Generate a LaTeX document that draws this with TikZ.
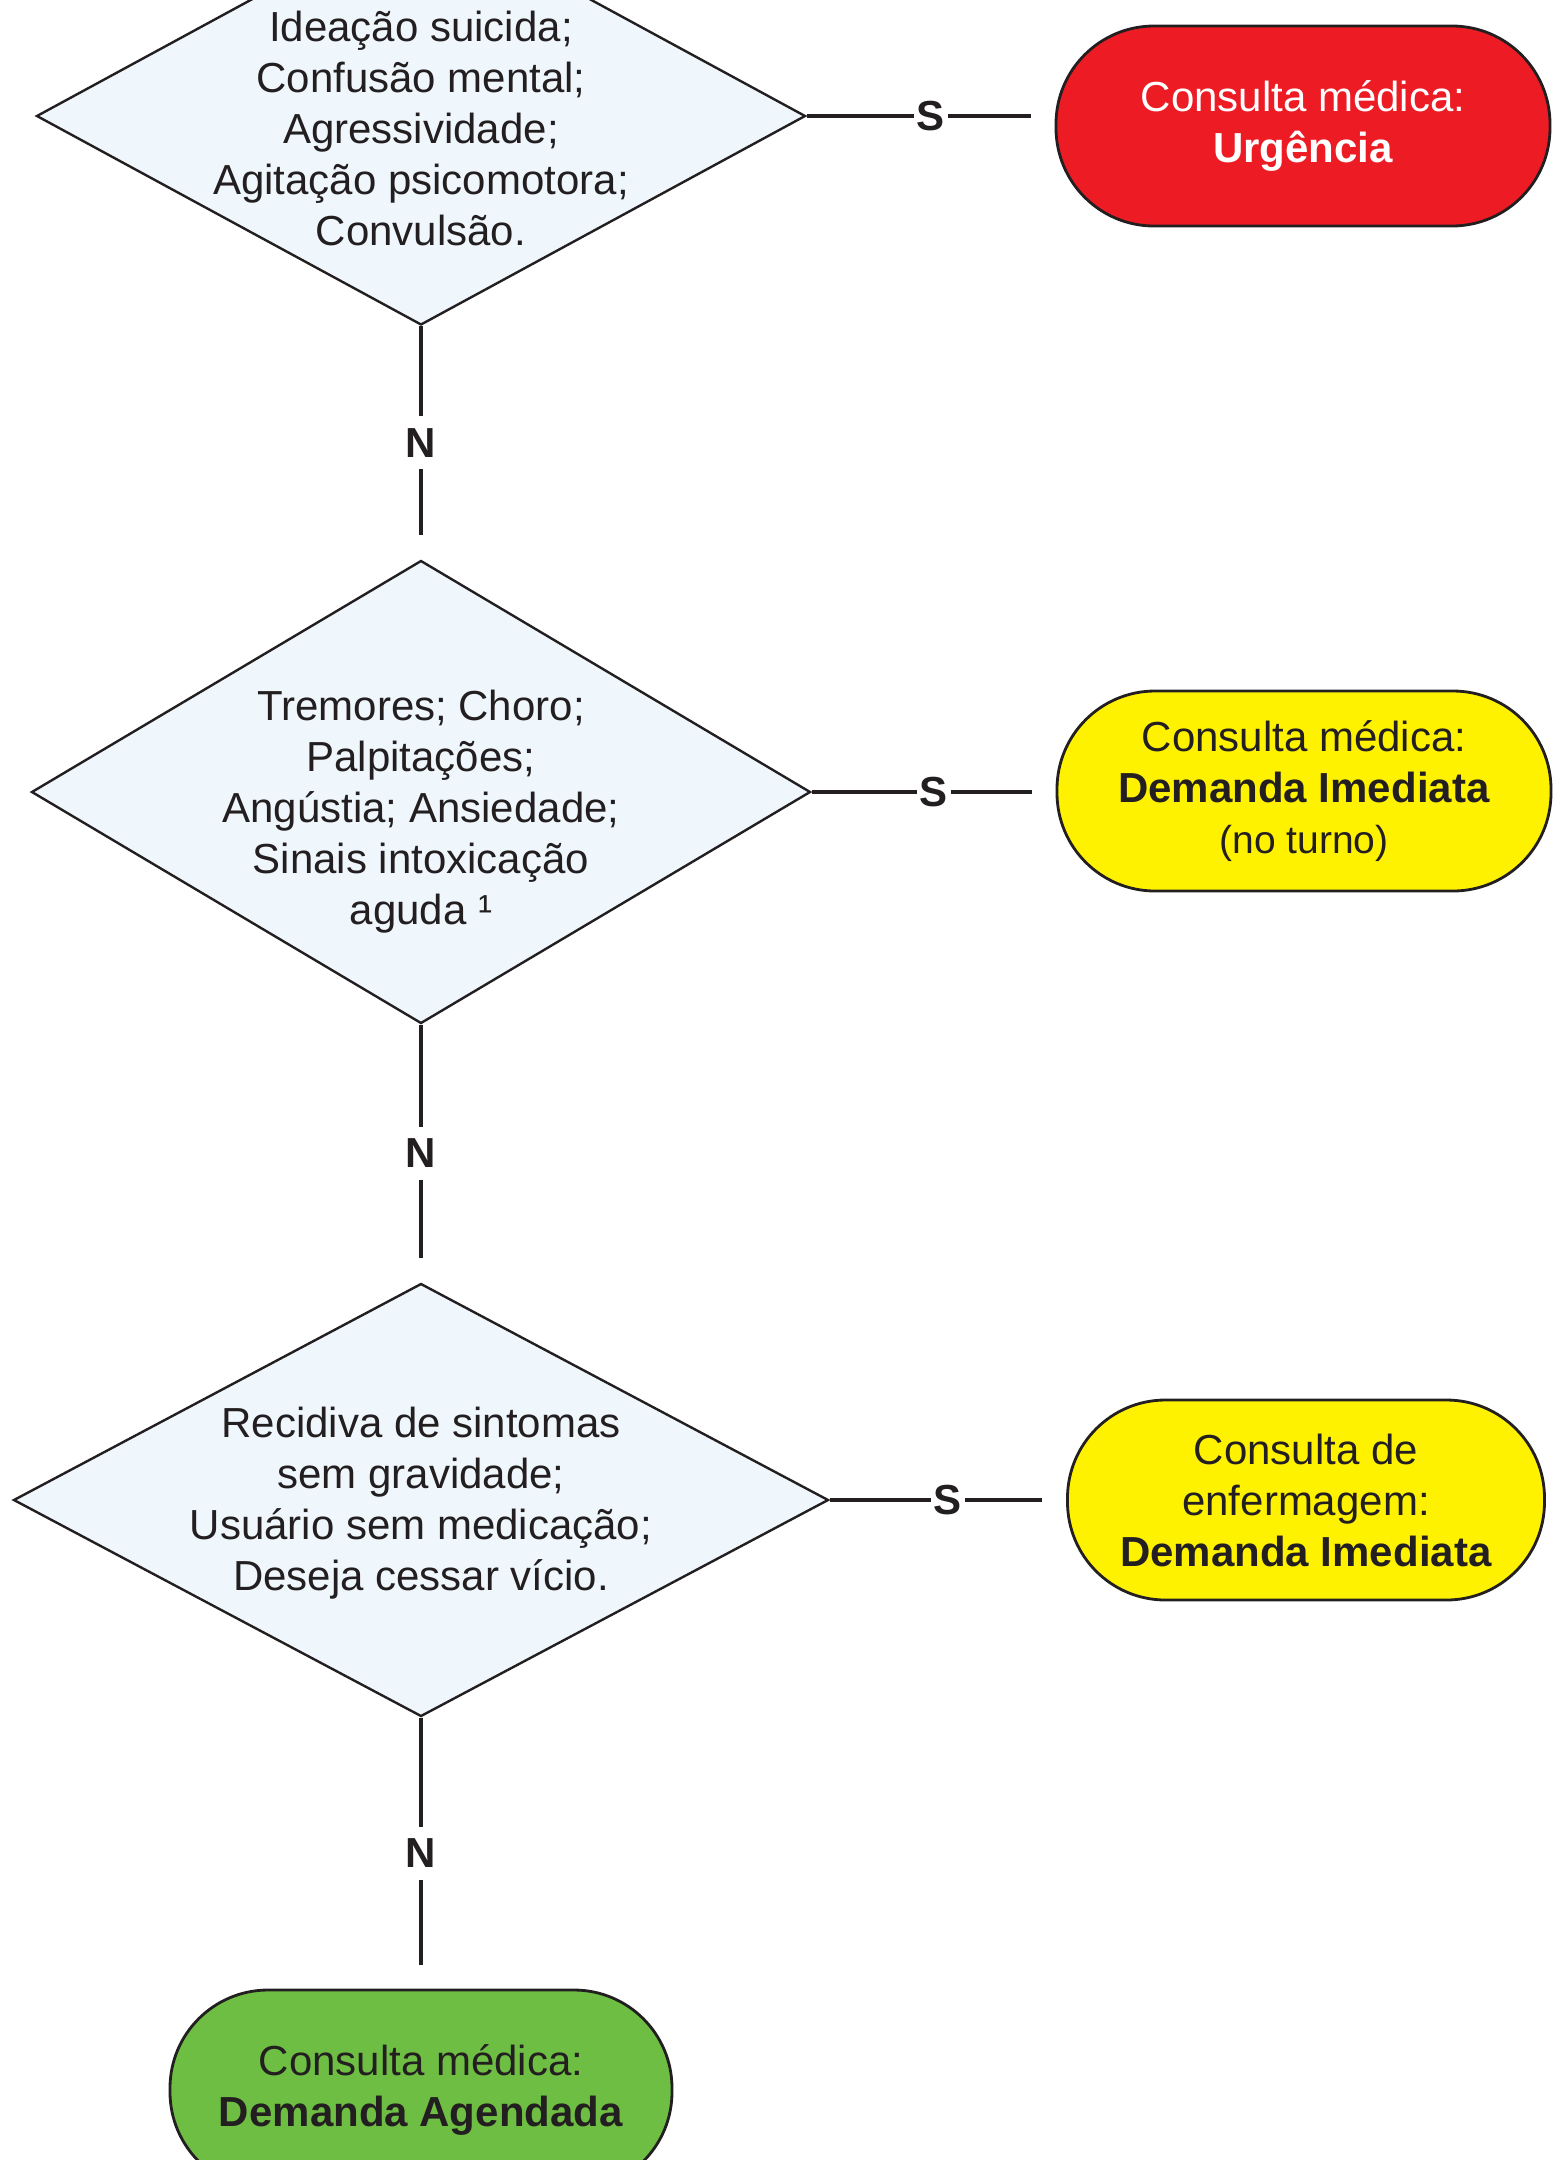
\documentclass[tikz,border=0pt]{standalone}
\usepackage{fontspec}
\setmainfont{Liberation Sans}
\usetikzlibrary{positioning, shapes.geometric, calc}
\definecolor{fxLine}{RGB}{35, 31, 32}
\definecolor{fxBlue}{RGB}{239, 247, 253}
\definecolor{fxRed}{RGB}{237, 28, 36}
\definecolor{fxYellow}{RGB}{255, 242, 0}
\definecolor{fxGreen}{RGB}{110, 190, 68}
\tikzset{
    base/.style={
        font=\fontsize{21}{25.5}\selectfont,
        align=center,
        text=fxLine
    },
    decision/.style={
        diamond,
        draw=fxLine,
        line width=1.2pt,
        fill=fxBlue,
        inner sep=0pt
    },
    question/.style={
        base,
        inner sep=0pt
    },
    outcome/.style={
        base,
        rectangle,
        rounded corners=49pt,
        draw=fxLine,
        line width=1.4pt,
        minimum width=247pt,
        minimum height=100pt,
        inner sep=0pt
    },
    link/.style={
        draw=fxLine,
        line width=1.6pt,
        shorten >=12pt
    },
    answer/.style={
        base,
        font=\fontsize{21}{25.5}\selectfont\bfseries,
        fill=white,
        inner xsep=1.5pt,
        inner ysep=6pt
    }
}

\begin{document}
\begin{tikzpicture}[x=0.5pt, y=-0.5pt]
  \useasboundingbox (0,0) rectangle (1556,2160);

  % Decisions
  \node[decision, minimum width=384.5pt, minimum height=209pt] (q1) at (421,116) {};
  \node[question] (q1txt) at (421,128) {Ideação suicida;\\ Confusão mental;\\ Agressividade;\\ Agitação psicomotora;\\ Convulsão.};

  \node[decision, minimum width=389.5pt, minimum height=231.5pt] (q2) at (421,792) {};
  \node[question] (q2txt) at (421,812) {Tremores; Choro;\\ Palpitações;\\ Angústia; Ansiedade;\\ Sinais intoxicação\\ aguda ¹};

  \node[decision, minimum width=407.5pt, minimum height=216.5pt] (q3) at (421,1500) {};
  \node[question] (q3txt) at (421,1503) {Recidiva de sintomas\\ sem gravidade;\\ Usuário sem medicação;\\ Deseja cessar vício.};

  % Outcomes
  \node[outcome, fill=fxRed, text=white] (r1) at (1303,126) {Consulta médica:\\ \textbf{Urgência}};
  \node[outcome, fill=fxYellow] (r2) at (1304,791) {Consulta médica:\\ \textbf{Demanda Imediata}\\ {\fontsize{19.5}{22}\selectfont (no turno)}};
  \node[outcome, fill=fxYellow, minimum width=238.5pt] (r3) at (1306,1500) {Consulta de\\ enfermagem:\\ \textbf{Demanda Imediata}};
  \node[outcome, fill=fxGreen, minimum width=251pt] (r4) at (421,2090) {Consulta médica:\\ \textbf{Demanda Agendada}};

  % Connectors
  \draw[link] (q1.east) -- node[answer] (s1) {S} (q1.east -| r1.west);
  \draw[link] (q2.east) -- node[answer] (s2) {S} (q2.east -| r2.west);
  \draw[link] (q3.east) -- node[answer] (s3) {S} (q3.east -| r3.west);
  \draw[link] (q1.south) -- node[answer] (n1) {N} (q2.north);
  \draw[link] (q2.south) -- node[answer] (n2) {N} (q3.north);
  \draw[link] (q3.south) -- node[answer] (n3) {N} (r4.north);
\end{tikzpicture}
\end{document}
